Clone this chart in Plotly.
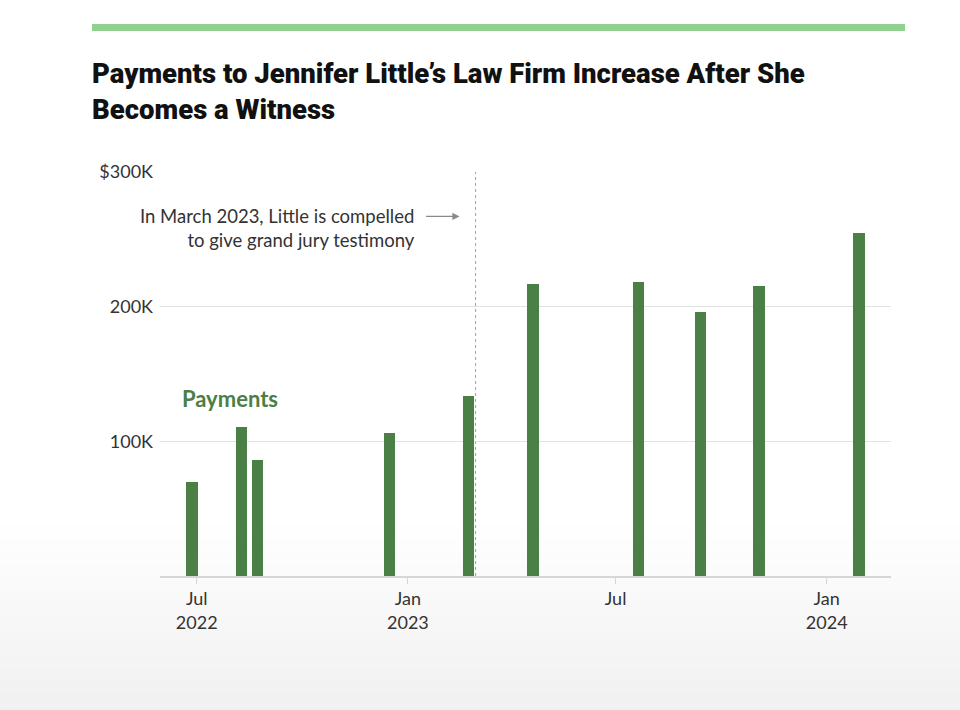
import plotly.graph_objects as go

# ---- data ----
payment_dates = ["2022-06-27", "2022-08-09", "2022-08-23", "2022-12-16", "2023-02-23",
                 "2023-04-20", "2023-07-21", "2023-09-13", "2023-11-03", "2024-01-29"]
payment_amounts = [70000, 110500, 86500, 106500, 134000,
                   217000, 218300, 196300, 215300, 255000]
x_tick_vals = ["2022-07-01", "2023-01-01", "2023-07-01", "2024-01-01"]
x_tick_text = ["Jul<br>2022", "Jan<br>2023", "Jul", "Jan<br>2024"]
y_tick_vals = [100000, 200000, 300000]
y_tick_text = ["100K", "200K", "$300K"]
event_date = "2023-03-01"

BAR = "#4a7f45"
FONT = "Lato"

fig = go.Figure()
fig.add_trace(go.Bar(
    x=payment_dates, y=payment_amounts,
    width=10 * 86400000,
    marker=dict(color=BAR, line=dict(width=0)),
    hoverinfo="x+y",
))

# plot area in pixels: top 172, bottom 576, left 160, right 891
PT, PB, PL, PR = 172, 576, 160, 891
ph = PB - PT
pw = PR - PL

shapes = []
# background gradient at bottom of page
n = 40
top_px, bot_px = 520, 712
for i in range(n):
    y0 = top_px + (bot_px - top_px) * i / n
    y1 = top_px + (bot_px - top_px) * (i + 1) / n + 0.5
    g = int(round(255 - 15 * ((i + 0.5) / n)))
    shapes.append(dict(type="rect", xref="paper", yref="paper", layer="below",
                       x0=-0.5, x1=1.5,
                       y0=(PB - y1) / ph, y1=(PB - y0) / ph,
                       line=dict(width=0), fillcolor=f"rgb({g},{g},{g})"))

# top green band
shapes.append(dict(type="rect", xref="paper", yref="paper",
                   x0=(92 - PL) / pw, x1=(905 - PL) / pw,
                   y0=(PB - 31) / ph, y1=(PB - 24) / ph,
                   line=dict(width=0), fillcolor="#8fd18f"))
# event dotted line
shapes.append(dict(type="line", xref="x", yref="y", layer="below",
                   x0=event_date, x1=event_date, y0=0, y1=300000,
                   line=dict(color="#a0a0a0", width=1, dash="dot")))

annotations = [
    dict(text="In March 2023, Little is compelled<br>to give grand jury testimony",
         xref="x", yref="y", x="2023-01-09", y=258500, xanchor="right", yanchor="middle",
         align="right", showarrow=False,
         font=dict(family=FONT, size=18.5, color="#333333")),
    dict(xref="x", yref="y", x="2023-02-15", y=267000, ax=-35, ay=0,
         axref="pixel", ayref="pixel", text="", showarrow=True,
         arrowhead=2, arrowsize=1.1, arrowwidth=1.3, arrowcolor="#8a8a8a"),
    dict(text="<b>Payments</b>", xref="x", yref="y", x="2022-06-16", y=132000,
         xanchor="left", yanchor="middle", showarrow=False,
         font=dict(family=FONT, size=22, color=BAR)),
]

fig.update_layout(
    width=960, height=710,
    margin=dict(l=PL, r=960 - PR, t=PT, b=710 - PB),
    paper_bgcolor="white", plot_bgcolor="rgba(0,0,0,0)",
    showlegend=False,
    bargap=0,
    title=dict(text="Payments to Jennifer Little’s Law Firm Increase After She<br>Becomes a Witness",
               xref="container", yref="container", x=92 / 960, y=1 - 83 / 710,
               xanchor="left", yanchor="top",
               font=dict(family="Roboto", size=27.5, color="#111111", weight=900)),
    font=dict(family=FONT, size=18, color="#333333"),
    shapes=shapes,
    annotations=annotations,
    xaxis=dict(type="date", range=["2022-05-30", "2024-02-26"],
               tickvals=x_tick_vals, ticktext=x_tick_text,
               showgrid=False, zeroline=False,
               showline=True, linecolor="#d6d6d6", linewidth=1.5,
               ticks="outside", ticklen=6, tickcolor="#d6d6d6", tickwidth=1,
               tickfont=dict(family=FONT, size=18, color="#333333")),
    yaxis=dict(range=[0, 300000], tickvals=y_tick_vals, ticktext=y_tick_text,
               showgrid=True, gridcolor="#e2e2e2", gridwidth=1,
               zeroline=False, showline=False, ticks="", ticklabelstandoff=6,
               tickfont=dict(family=FONT, size=18, color="#333333")),
)

fig.write_html("out.html", config={"displayModeBar": False},
               post_script="document.body.style.margin='0';")
